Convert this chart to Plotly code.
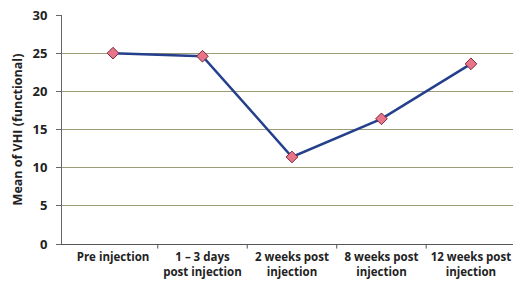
import plotly.graph_objects as go

categories = ["Pre injection", "1 – 3 days<br>post injection", "2 weeks post<br>injection",
              "8 weeks post<br>injection", "12 weeks post<br>injection"]
vhi_mean = [25.0, 24.6, 11.4, 16.4, 23.6]
y_ticks = [0, 5, 10, 15, 20, 25, 30]

fig = go.Figure()
fig.add_trace(go.Scatter(
    x=list(range(len(categories))), y=vhi_mean, mode="lines+markers",
    line=dict(color="#243f8c", width=2.5),
    marker=dict(symbol="diamond", size=9, color="#e8748a",
                line=dict(color="#7a2a3a", width=1)),
    showlegend=False,
))

font = dict(family="Open Sans, Liberation Sans, sans-serif", size=12, color="#222222")
fig.update_layout(
    width=513, height=281,
    margin=dict(l=62, r=0, t=15, b=37),
    paper_bgcolor="white", plot_bgcolor="white",
    font=font,
)
fig.update_xaxes(
    tickmode="array", tickvals=list(range(len(categories))), ticktext=[f"<b>{c}</b>" for c in categories],
    range=[-0.57, 4.47], showgrid=False, zeroline=False,
    showline=True, linecolor="#555555", linewidth=1,
    ticks="", tickfont=dict(size=11.5), ticklabelstandoff=2, automargin=False,
)
fig.update_yaxes(
    range=[0, 30], tickvals=y_ticks, ticktext=[f"<b>{v}</b>" for v in y_ticks],
    showgrid=True, gridcolor="#9c9c78", gridwidth=1.2,
    zeroline=False, showline=True, linecolor="#666666", linewidth=1,
    ticks="outside", ticklen=5, tickcolor="#666666",
    tickfont=dict(size=13), ticklabelstandoff=6, automargin=False,
    title=dict(text="<b>Mean of VHI (functional)</b>", font=dict(size=12.5), standoff=7),
)
# boundary ticks on x axis
for b in [0.5, 1.5, 2.5, 3.5]:
    fig.add_shape(type="line", xref="x", yref="paper", x0=b, x1=b, y0=0, y1=-0.02,
                  line=dict(color="#555555", width=1))
fig.write_html("out.html", config={"displayModeBar": False},
               post_script="document.body.style.margin='0';")
